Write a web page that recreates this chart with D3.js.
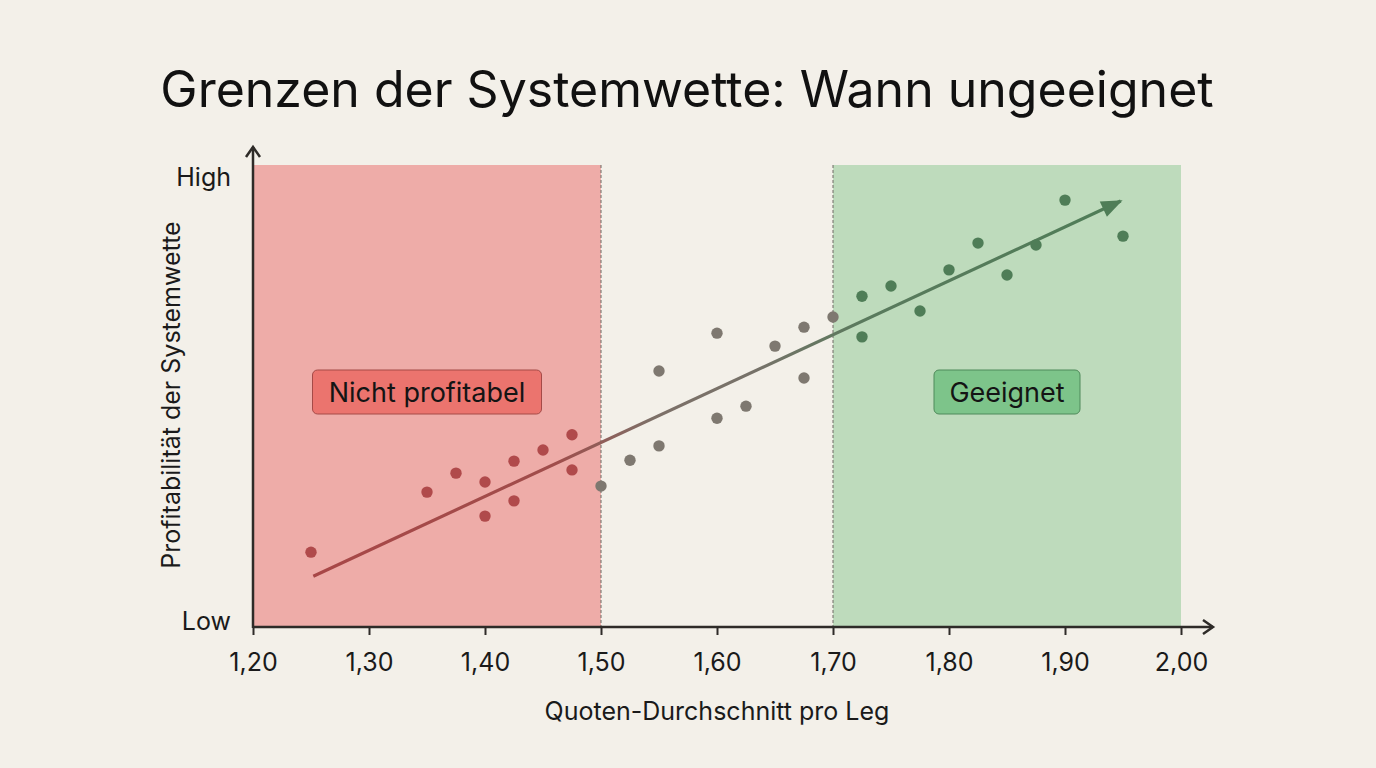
<!DOCTYPE html>
<html>
<head>
<meta charset="utf-8">
<script src="https://cdn.jsdelivr.net/npm/d3@7"></script>
<style>
  html, body { margin: 0; padding: 0; background: #f3f0e9; }
  svg { display: block; font-family: Inter, "Noto Sans", sans-serif; }
</style>
</head>
<body>
<svg id="chart" width="1376" height="768"></svg>
<script>
// data (x = average odds per leg, y = profitability 0..100)
var redPoints = [
  [1.25, 16.2], [1.35, 29.2], [1.375, 33.3], [1.40, 31.4], [1.40, 24.0],
  [1.425, 35.9], [1.425, 27.3], [1.45, 38.3], [1.475, 41.6], [1.475, 34.0]
];
var grayPoints = [
  [1.50, 30.5], [1.525, 36.1], [1.55, 39.2], [1.55, 55.4], [1.60, 63.6],
  [1.60, 45.2], [1.625, 47.8], [1.65, 60.8], [1.675, 64.9], [1.675, 53.9],
  [1.70, 67.1]
];
var greenPoints = [
  [1.725, 71.6], [1.725, 62.8], [1.75, 73.8], [1.775, 68.4], [1.80, 77.3],
  [1.825, 83.1], [1.85, 76.2], [1.875, 82.7], [1.90, 92.4], [1.95, 84.6]
];
var trend = [[1.252, 11.0], [1.948, 92.2]];
var zones = [
  { from: 1.20, to: 1.50, label: "Nicht profitabel" },
  { from: 1.70, to: 2.00, label: "Geeignet" }
];
var xTicks = [1.2, 1.3, 1.4, 1.5, 1.6, 1.7, 1.8, 1.9, 2.0];
var boundaries = [1.50, 1.70];

var svg = d3.select("#chart");
var x = d3.scaleLinear().domain([1.2, 2.0]).range([253, 1181]);
var y = d3.scaleLinear().domain([0, 100]).range([627, 165]);
var de = d3.formatLocale({ decimal: ",", thousands: ".", grouping: [3], currency: ["", " €"] });
var fmt = de.format(".2f");

var defs = svg.append("defs");
var grad = defs.append("linearGradient")
  .attr("id", "trendGrad")
  .attr("gradientUnits", "userSpaceOnUse")
  .attr("x1", x(trend[0][0])).attr("y1", y(trend[0][1]))
  .attr("x2", x(trend[1][0])).attr("y2", y(trend[1][1]));
[[0, "#a84747"], [0.3, "#a04d4b"], [0.42, "#7d7068"], [0.55, "#767269"], [0.68, "#5a7a5d"], [1, "#4f7d57"]]
  .forEach(function (s) {
    grad.append("stop").attr("offset", s[0]).attr("stop-color", s[1]);
  });
defs.append("marker")
  .attr("id", "head")
  .attr("markerUnits", "userSpaceOnUse")
  .attr("viewBox", "0 0 20 16")
  .attr("refX", 18).attr("refY", 8)
  .attr("markerWidth", 22).attr("markerHeight", 17)
  .attr("orient", "auto")
  .append("path")
  .attr("d", "M0,0 L20,8 L0,16 Z")
  .attr("fill", "#4f7d57");

// title
svg.append("text")
  .attr("x", 687).attr("y", 107)
  .attr("text-anchor", "middle")
  .attr("font-size", 50)
  .attr("fill", "#111")
  .text("Grenzen der Systemwette: Wann ungeeignet");

// zones
svg.append("g").selectAll("rect")
  .data(zones)
  .enter()
  .append("rect")
  .attr("x", function (d) { return x(d.from); })
  .attr("y", y(100))
  .attr("width", function (d) { return x(d.to) - x(d.from); })
  .attr("height", y(0) - y(100))
  .attr("fill", function (d, i) { return i === 0 ? "#eeaca8" : "#bedbbc"; });

svg.append("g").selectAll("line")
  .data(boundaries)
  .enter()
  .append("line")
  .attr("x1", function (d) { return x(d); })
  .attr("x2", function (d) { return x(d); })
  .attr("y1", y(100))
  .attr("y2", y(0))
  .attr("stroke", "#6e6a64")
  .attr("stroke-width", 1)
  .attr("stroke-dasharray", "3,2");

// zone labels
var lab = svg.append("g").selectAll("g")
  .data(zones)
  .enter()
  .append("g")
  .attr("transform", function (d, i) {
    return "translate(" + (i === 0 ? 427 : 1007) + ",392)";
  });
lab.append("rect")
  .attr("x", function (d, i) { return i === 0 ? -114.5 : -73; })
  .attr("y", -22)
  .attr("width", function (d, i) { return i === 0 ? 229 : 146; })
  .attr("height", 44)
  .attr("rx", 5)
  .attr("fill", function (d, i) { return i === 0 ? "#eb746e" : "#7dc48a"; })
  .attr("stroke", function (d, i) { return i === 0 ? "#a54a47" : "#4f8a5a"; })
  .attr("stroke-width", 1);
lab.append("text")
  .attr("text-anchor", "middle")
  .attr("dy", "0.36em")
  .attr("font-size", 27)
  .attr("fill", "#141414")
  .text(function (d) { return d.label; });

// trend arrow
svg.append("path")
  .datum(trend)
  .attr("d", d3.line().x(function (d) { return x(d[0]); }).y(function (d) { return y(d[1]); }))
  .attr("fill", "none")
  .attr("stroke", "url(#trendGrad)")
  .attr("stroke-width", 3.2)
  .attr("marker-end", "url(#head)");

// points
function dots(data, color) {
  svg.append("g").selectAll("circle")
    .data(data)
    .enter()
    .append("circle")
    .attr("cx", function (d) { return x(d[0]); })
    .attr("cy", function (d) { return y(d[1]); })
    .attr("r", 5.7)
    .attr("fill", color);
}
dots(redPoints, "#b04a4b");
dots(grayPoints, "#7e7870");
dots(greenPoints, "#4f7d57");

// axes
var axisColor = "#2e2b28";
var xAxis = svg.append("g")
  .attr("transform", "translate(0," + y(0) + ")")
  .call(d3.axisBottom(x).tickValues(xTicks).tickFormat(fmt).tickSize(8).tickPadding(18));
xAxis.select(".domain").remove();
xAxis.selectAll(".tick line").attr("stroke", axisColor).attr("stroke-width", 2);
xAxis.selectAll(".tick text")
  .attr("font-size", 25)
  .attr("font-family", "Inter, sans-serif")
  .attr("fill", "#1a1a1a");

svg.append("line")
  .attr("x1", x(1.2)).attr("x2", 1213)
  .attr("y1", y(0)).attr("y2", y(0))
  .attr("stroke", axisColor).attr("stroke-width", 2.5);
svg.append("path")
  .attr("d", "M1203,620 L1213," + y(0) + " L1203,634")
  .attr("fill", "none").attr("stroke", axisColor).attr("stroke-width", 2.5);

svg.append("line")
  .attr("x1", x(1.2)).attr("x2", x(1.2))
  .attr("y1", y(0) + 1).attr("y2", 147)
  .attr("stroke", axisColor).attr("stroke-width", 2.5);
svg.append("path")
  .attr("d", "M" + (x(1.2) - 7) + ",157 L" + x(1.2) + ",147 L" + (x(1.2) + 7) + ",157")
  .attr("fill", "none").attr("stroke", axisColor).attr("stroke-width", 2.5);

svg.append("text")
  .attr("x", 231).attr("y", y(100) + 21)
  .attr("text-anchor", "end")
  .attr("font-size", 25).attr("fill", "#1a1a1a")
  .text("High");
svg.append("text")
  .attr("x", 231).attr("y", y(0) + 3)
  .attr("text-anchor", "end")
  .attr("font-size", 25).attr("fill", "#1a1a1a")
  .text("Low");

svg.append("text")
  .attr("x", 717).attr("y", 720)
  .attr("text-anchor", "middle")
  .attr("font-size", 25).attr("fill", "#1a1a1a")
  .text("Quoten-Durchschnitt pro Leg");
svg.append("text")
  .attr("transform", "translate(180,395) rotate(-90)")
  .attr("text-anchor", "middle")
  .attr("font-size", 25).attr("fill", "#1a1a1a")
  .text("Profitabilität der Systemwette");
</script>
</body>
</html>
